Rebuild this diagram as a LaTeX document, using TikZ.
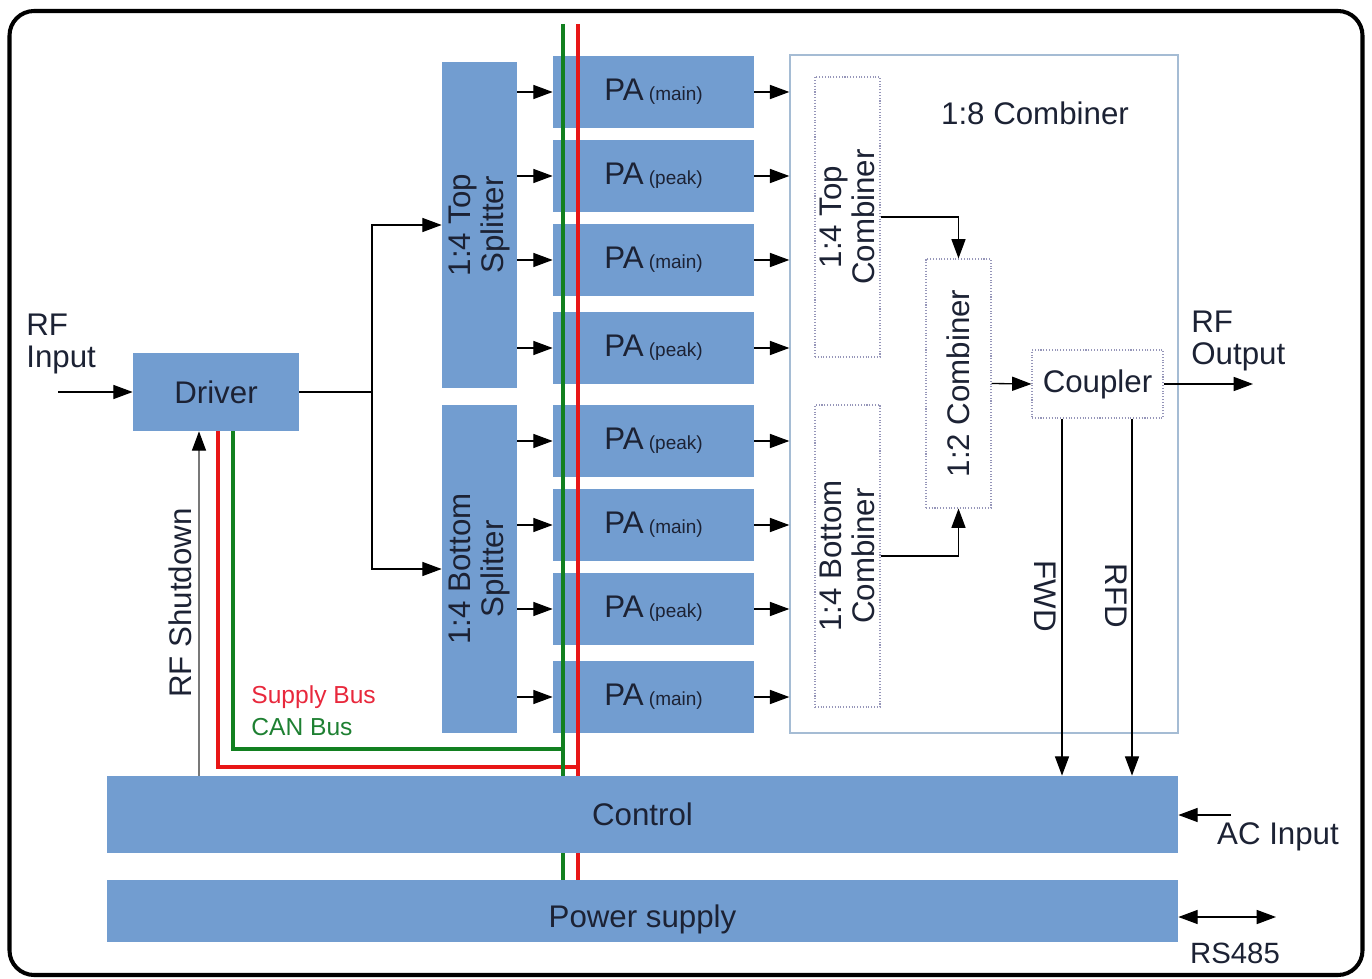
\documentclass[tikz,border=0pt]{standalone}
\usepackage{fontspec}
\setmainfont{Liberation Sans}
\usepackage{tikz}
\usetikzlibrary{arrows.meta}
\usepackage{xcolor}
\definecolor{blkblue}{RGB}{114, 157, 208}
\definecolor{ink}{RGB}{28, 34, 52}
\definecolor{combedge}{RGB}{165, 188, 212}
\definecolor{dotedge}{RGB}{150, 150, 185}
\definecolor{shdgray}{RGB}{120, 120, 120}
\definecolor{busred}{RGB}{232, 22, 22}
\definecolor{busgreen}{RGB}{18, 128, 32}
\definecolor{txtred}{RGB}{232, 40, 60}
\definecolor{txtgreen}{RGB}{30, 128, 50}
\newcommand{\lblfont}{\fontsize{17.8}{18.5}\selectfont}
\newcommand{\subfont}{\fontsize{10.8}{12}\selectfont}
\newcommand{\busfont}{\fontsize{14}{16}\selectfont}
\newcommand{\rsfont}{\fontsize{16.7}{18}\selectfont}
\tikzset{
  sz/.style 2 args={minimum width=#1*0.02cm, minimum height=#2*0.02cm},
  blk/.style={fill=blkblue, inner sep=0pt, font=\lblfont, text=ink},
  dotbox/.style={draw=dotedge, densely dotted, line width=0.6pt, inner sep=0pt},
  txt/.style={font=\lblfont, text=ink, align=center, inner sep=0pt},
  arr/.style={line width=0.75pt, -{Triangle[length=11pt, width=8pt, black]}},
  dblarr/.style={line width=0.75pt, {Triangle[length=11pt, width=8pt]}-{Triangle[length=11pt, width=8pt]}},
  supbus/.style={busred, line width=2.2pt},
  canbus/.style={busgreen, line width=2.2pt}
}

\begin{document}
\begin{tikzpicture}[x=0.02cm, y=-0.02cm]
  \useasboundingbox (0,0) rectangle (1372,979);

  % frame
  \draw[line width=2.3pt, rounded corners=14pt] (9.5,11) rectangle (1362.5,975);

  % driver and splitters
  \node[blk, sz={166}{78}] (drv) at (216,392) {Driver};
  \node[blk, sz={75}{326}] (tsplit) at (479.5,225) {};
  \node[txt, rotate=90] at (tsplit) {1:4 Top\\Splitter};
  \node[blk, sz={75}{328}] (bsplit) at (479.5,569) {};
  \node[txt, rotate=90] at (bsplit) {1:4 Bottom\\Splitter};

  % power amplifiers
  \foreach \i/\y/\t in {1/92/main, 2/176/peak, 3/260/main, 4/348/peak,
                        5/441/peak, 6/525/main, 7/609/peak, 8/697/main}
    \node[blk, sz={201}{72}] (pa\i) at (653.5,\y) {PA\,{\subfont(\t)}};

  % 1:8 combiner
  \node[draw=combedge, line width=0.8pt, fill=white, inner sep=0pt, sz={388}{678}] (comb) at (984,394) {};
  \node[txt] at (1035,113) {1:8 Combiner};
  \node[dotbox, sz={65}{280}] (tcomb) at (847.5,217) {};
  \node[txt, rotate=90] at (tcomb) {1:4 Top\\Combiner};
  \node[dotbox, sz={65}{302}] (bcomb) at (847.5,556) {};
  \node[txt, rotate=90] at (bcomb) {1:4 Bottom\\Combiner};
  \node[dotbox, sz={65}{249}] (hcomb) at (958.5,383.5) {};
  \node[txt, rotate=90] at (hcomb) {1:2 Combiner};
  \node[dotbox, sz={131}{68}, font=\lblfont, text=ink] (coup) at (1097.5,384) {Coupler};

  % control and power supply
  \node[blk, sz={1071}{77}] (ctrl) at (642.5,814.5) {Control};
  \node[blk, sz={1071}{62}] (psu) at (642.5,911) {};
  \node[txt] at (642.5,919) {Power supply};

  % RF path
  \coordinate (rfin) at (58,392);
  \draw[arr] (rfin) -- (drv.west);
  \node[txt, align=left, anchor=west] at (26,344) {RF\\Input};
  \coordinate (br) at (372,392);
  \draw[arr] (drv.east) -- (br) |- (tsplit.west);
  \draw[arr] (br) |- (bsplit.west);
  \foreach \i in {1,...,4}
    \draw[arr] (tsplit.east |- pa\i.west) -- (pa\i.west);
  \foreach \i in {5,...,8}
    \draw[arr] (bsplit.east |- pa\i.west) -- (pa\i.west);
  \foreach \i in {1,...,8}
    \draw[arr] (pa\i.east) -- (pa\i.east -| comb.west);
  \draw[arr] (tcomb.east) -| (hcomb.north);
  \draw[arr] (bcomb.east) -| (hcomb.south);
  \draw[arr] (hcomb.east) -- (coup.west);
  \coordinate (rfout) at (1253,384);
  \draw[arr] (coup.east) -- (rfout);
  \node[txt, align=left, anchor=west] at (1191,341) {RF\\Output};

  % forward / reflected
  \coordinate (fwd) at (1062,600);
  \coordinate (rfd) at (1132,600);
  \draw[arr] (coup.south -| fwd) -- (fwd |- ctrl.north);
  \draw[arr] (coup.south -| rfd) -- (rfd |- ctrl.north);
  \node[txt, rotate=-90] at (1045,596) {FWD};
  \node[txt, rotate=-90] at (1116,596) {RFD};

  % AC input and RS485
  \coordinate (ac) at (1231,815);
  \draw[arr] (ac) -- (ac -| ctrl.east);
  \node[txt] at (1278,837) {AC Input};
  \coordinate (rs) at (1276,917);
  \draw[dblarr] (rs -| psu.east) -- (rs);
  \node[txt, font=\rsfont] at (1235,953) {RS485};

  % RF shutdown
  \coordinate (sd) at (199,600);
  \draw[arr, shdgray] (sd |- ctrl.north) -- (sd |- drv.south);
  \node[txt, rotate=90] at (180,603) {RF Shutdown};

  % supply and CAN bus
  \coordinate (sup) at (578,24);
  \coordinate (can) at (563,24);
  \coordinate (supd) at (218,767);
  \coordinate (cand) at (233,749);
  \draw[supbus] (drv.south -| supd) -- (supd) -- (supd -| sup);
  \draw[supbus] (sup) -- (sup |- ctrl.north) (sup |- ctrl.south) -- (sup |- psu.north);
  \draw[canbus] (drv.south -| cand) -- (cand) -- (cand -| can);
  \draw[canbus] (can) -- (can |- ctrl.north) (can |- ctrl.south) -- (can |- psu.north);
  \node[font=\busfont, text=txtred, anchor=west, inner sep=0pt] at (251,697) {Supply Bus};
  \node[font=\busfont, text=txtgreen, anchor=west, inner sep=0pt] at (251,727) {CAN Bus};
\end{tikzpicture}
\end{document}
